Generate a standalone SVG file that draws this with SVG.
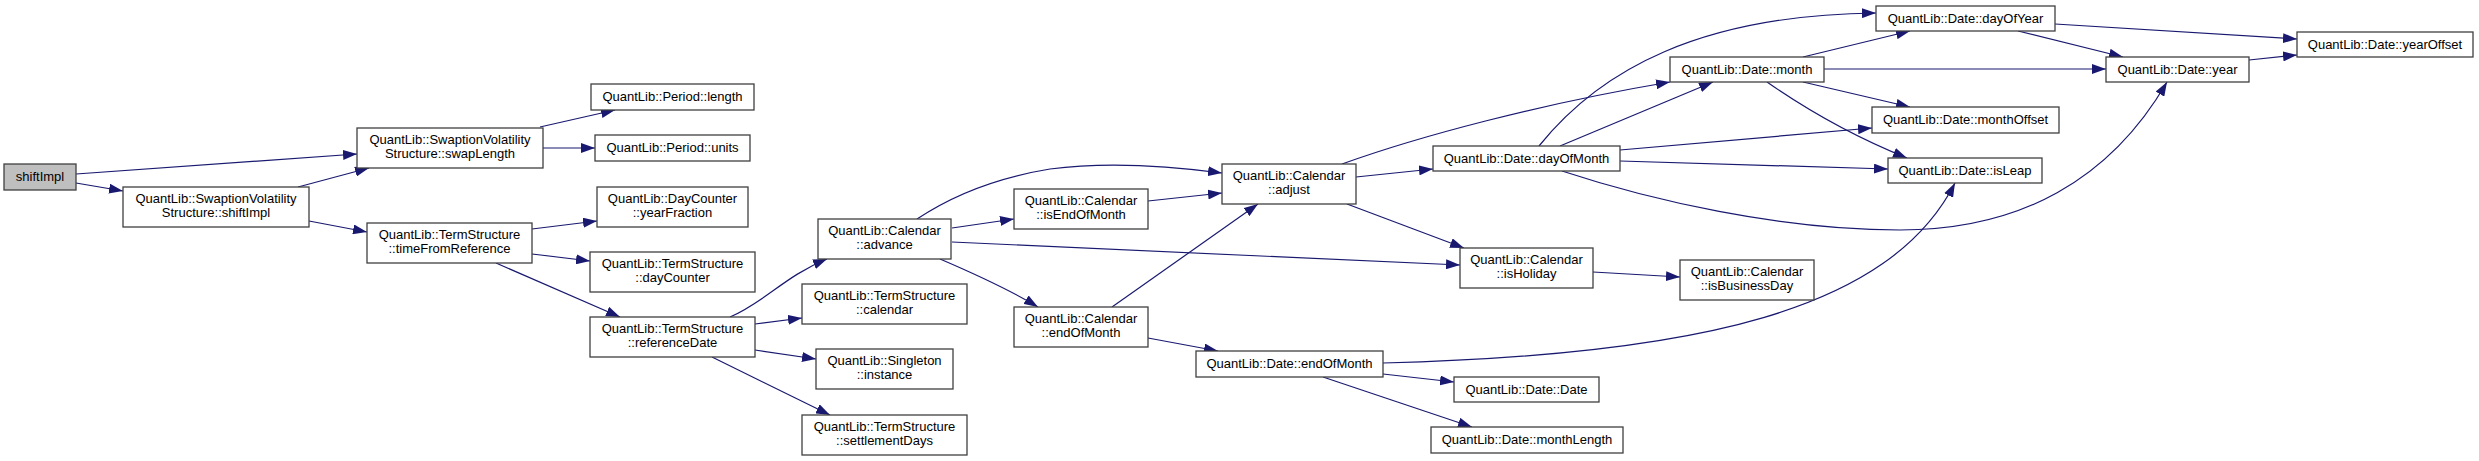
<svg xmlns="http://www.w3.org/2000/svg" width="2479" height="461" viewBox="0 0 2479 461">
<style>
.node rect{fill:#ffffff;stroke:#404040;stroke-width:1.3}
.node text{font-family:"Liberation Sans",Arial,sans-serif;font-size:13px;text-anchor:middle;fill:#000000}
#n_root rect{fill:#bfbfbf}
.edges path{fill:none;stroke:#191970;stroke-width:1.2;marker-end:url(#arr)}
</style>
<defs>
<marker id="arr" markerUnits="userSpaceOnUse" markerWidth="14" markerHeight="10" refX="14" refY="5" orient="auto" viewBox="0 0 14 10">
<path d="M0,0 L14,5 L0,10 z" fill="#191970"/>
</marker>
</defs>
<rect width="2479" height="461" fill="#ffffff"/>
<g class="edges">
<path d="M76,174 L357,154"/>
<path d="M76,183 L123,191"/>
<path d="M298,187 L369,168"/>
<path d="M309,221 L367,232"/>
<path d="M540,127 L615,110"/>
<path d="M543,148 L595,148"/>
<path d="M532,229 L597,221"/>
<path d="M532,254 L590,261"/>
<path d="M496,263 L620,317"/>
<path d="M730,317 C765,302 785,276 827,259"/>
<path d="M755,324 L802,318"/>
<path d="M755,350 L816,359"/>
<path d="M712,357 L830,415"/>
<path d="M917,219 C950,197 995,178 1050,169 C1110,161 1170,166 1222,173"/>
<path d="M952,228 L1014,219"/>
<path d="M952,242 L1460,265"/>
<path d="M940,259 C975,274 1010,290 1038,307"/>
<path d="M1148,201 L1222,193"/>
<path d="M1112,307 L1258,204"/>
<path d="M1148,338 L1218,351"/>
<path d="M1356,177 L1433,169"/>
<path d="M1347,204 L1464,248"/>
<path d="M1342,164 C1420,136 1540,104 1670,82"/>
<path d="M1539,146 C1600,70 1700,15 1876,13"/>
<path d="M1560,146 L1713,82"/>
<path d="M1620,150 L1872,128"/>
<path d="M1620,161 L1888,169"/>
<path d="M1562,171 C1650,200 1780,230 1900,230 C2020,230 2110,180 2167,82"/>
<path d="M1383,363 C1700,355 1890,310 1955,183"/>
<path d="M1383,374 L1454,382"/>
<path d="M1323,377 L1472,427"/>
<path d="M1803,57 L1910,31"/>
<path d="M1824,69 L2106,69"/>
<path d="M1803,82 L1910,107"/>
<path d="M1767,82 C1800,105 1850,135 1907,158"/>
<path d="M2018,31 L2123,57"/>
<path d="M2055,24 L2297,39"/>
<path d="M2249,60 L2297,55"/>
<path d="M1593,272 L1680,277"/>
</g>
<g id="n_root" class="node"><rect x="4" y="164" width="72" height="26"/><text x="40" y="181">shiftImpl</text></g>
<g id="n_svs_shiftImpl" class="node"><rect x="123" y="187" width="186" height="40"/><text x="216" y="203">QuantLib::SwaptionVolatility</text><text x="216" y="217">Structure::shiftImpl</text></g>
<g id="n_swapLength" class="node"><rect x="357" y="128" width="186" height="40"/><text x="450" y="144">QuantLib::SwaptionVolatility</text><text x="450" y="158">Structure::swapLength</text></g>
<g id="n_timeFromReference" class="node"><rect x="367" y="223" width="165" height="40"/><text x="449.5" y="239">QuantLib::TermStructure</text><text x="449.5" y="253">::timeFromReference</text></g>
<g id="n_period_length" class="node"><rect x="591" y="84" width="163" height="26"/><text x="672.5" y="101">QuantLib::Period::length</text></g>
<g id="n_period_units" class="node"><rect x="595" y="135" width="155" height="26"/><text x="672.5" y="152">QuantLib::Period::units</text></g>
<g id="n_yearFraction" class="node"><rect x="597" y="187" width="151" height="40"/><text x="672.5" y="203">QuantLib::DayCounter</text><text x="672.5" y="217">::yearFraction</text></g>
<g id="n_dayCounter" class="node"><rect x="590" y="252" width="165" height="40"/><text x="672.5" y="268">QuantLib::TermStructure</text><text x="672.5" y="282">::dayCounter</text></g>
<g id="n_referenceDate" class="node"><rect x="590" y="317" width="165" height="40"/><text x="672.5" y="333">QuantLib::TermStructure</text><text x="672.5" y="347">::referenceDate</text></g>
<g id="n_advance" class="node"><rect x="818" y="219" width="133" height="40"/><text x="884.5" y="235">QuantLib::Calendar</text><text x="884.5" y="249">::advance</text></g>
<g id="n_ts_calendar" class="node"><rect x="802" y="284" width="165" height="40"/><text x="884.5" y="300">QuantLib::TermStructure</text><text x="884.5" y="314">::calendar</text></g>
<g id="n_singleton" class="node"><rect x="816" y="349" width="137" height="40"/><text x="884.5" y="365">QuantLib::Singleton</text><text x="884.5" y="379">::instance</text></g>
<g id="n_settlementDays" class="node"><rect x="802" y="415" width="165" height="40"/><text x="884.5" y="431">QuantLib::TermStructure</text><text x="884.5" y="445">::settlementDays</text></g>
<g id="n_isEndOfMonth" class="node"><rect x="1014" y="189" width="134" height="40"/><text x="1081" y="205">QuantLib::Calendar</text><text x="1081" y="219">::isEndOfMonth</text></g>
<g id="n_cal_endOfMonth" class="node"><rect x="1014" y="307" width="134" height="40"/><text x="1081" y="323">QuantLib::Calendar</text><text x="1081" y="337">::endOfMonth</text></g>
<g id="n_adjust" class="node"><rect x="1222" y="164" width="134" height="40"/><text x="1289" y="180">QuantLib::Calendar</text><text x="1289" y="194">::adjust</text></g>
<g id="n_date_endOfMonth" class="node"><rect x="1196" y="351" width="187" height="26"/><text x="1289.5" y="368">QuantLib::Date::endOfMonth</text></g>
<g id="n_dayOfMonth" class="node"><rect x="1433" y="146" width="187" height="25"/><text x="1526.5" y="163">QuantLib::Date::dayOfMonth</text></g>
<g id="n_isHoliday" class="node"><rect x="1460" y="248" width="133" height="40"/><text x="1526.5" y="264">QuantLib::Calendar</text><text x="1526.5" y="278">::isHoliday</text></g>
<g id="n_isBusinessDay" class="node"><rect x="1680" y="260" width="134" height="40"/><text x="1747" y="276">QuantLib::Calendar</text><text x="1747" y="290">::isBusinessDay</text></g>
<g id="n_date_date" class="node"><rect x="1454" y="377" width="145" height="25"/><text x="1526.5" y="394">QuantLib::Date::Date</text></g>
<g id="n_monthLength" class="node"><rect x="1431" y="427" width="192" height="26"/><text x="1527" y="444">QuantLib::Date::monthLength</text></g>
<g id="n_month" class="node"><rect x="1670" y="57" width="154" height="25"/><text x="1747" y="74">QuantLib::Date::month</text></g>
<g id="n_dayOfYear" class="node"><rect x="1876" y="6" width="179" height="25"/><text x="1965.5" y="23">QuantLib::Date::dayOfYear</text></g>
<g id="n_monthOffset" class="node"><rect x="1872" y="107" width="187" height="26"/><text x="1965.5" y="124">QuantLib::Date::monthOffset</text></g>
<g id="n_isLeap" class="node"><rect x="1888" y="158" width="154" height="25"/><text x="1965" y="175">QuantLib::Date::isLeap</text></g>
<g id="n_year" class="node"><rect x="2106" y="57" width="143" height="25"/><text x="2177.5" y="74">QuantLib::Date::year</text></g>
<g id="n_yearOffset" class="node"><rect x="2297" y="32" width="176" height="25"/><text x="2385" y="49">QuantLib::Date::yearOffset</text></g>
</svg>
